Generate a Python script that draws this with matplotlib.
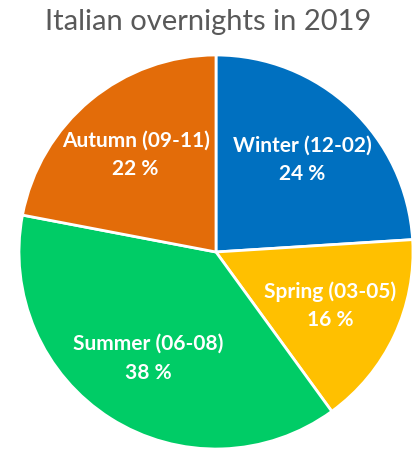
import matplotlib
matplotlib.use("Agg")
import matplotlib.pyplot as plt
import numpy as np

seasons = ["Winter (12-02)", "Spring (03-05)", "Summer (06-08)", "Autumn (09-11)"]
shares = [24, 16, 38, 22]
colors = ["#0070C0", "#FFC000", "#00CC66", "#E36C09"]

plt.rcParams['font.family'] = ['Lato', 'DejaVu Sans']

fig = plt.figure(figsize=(4.16, 4.5), dpi=100)
fig.text(0.5, 1 - 22 / 450, "Italian overnights in 2019", ha="center", va="center",
         fontsize=21, color="#595959")

ax = fig.add_axes([19 / 416, 1 / 450, 394 / 416, 394 / 450])
labels = [f"{s}\n{v} %" for s, v in zip(seasons, shares)]
wedges, texts = ax.pie(shares, colors=colors, startangle=90, counterclock=False,
                       labels=labels, labeldistance=0.64,
                       wedgeprops=dict(edgecolor="white", linewidth=2))
for t in texts:
    t.set_ha("center")
    t.set_va("center")
    t.set_color("white")
    t.set_fontsize(15)
    t.set_fontweight("bold")
    t.set_linespacing(1.55)
ax.set_aspect("equal")
ax.set_xlim(-1, 1)
ax.set_ylim(-1, 1)
ax.axis("off")

fig.savefig("out.png", dpi=100)
